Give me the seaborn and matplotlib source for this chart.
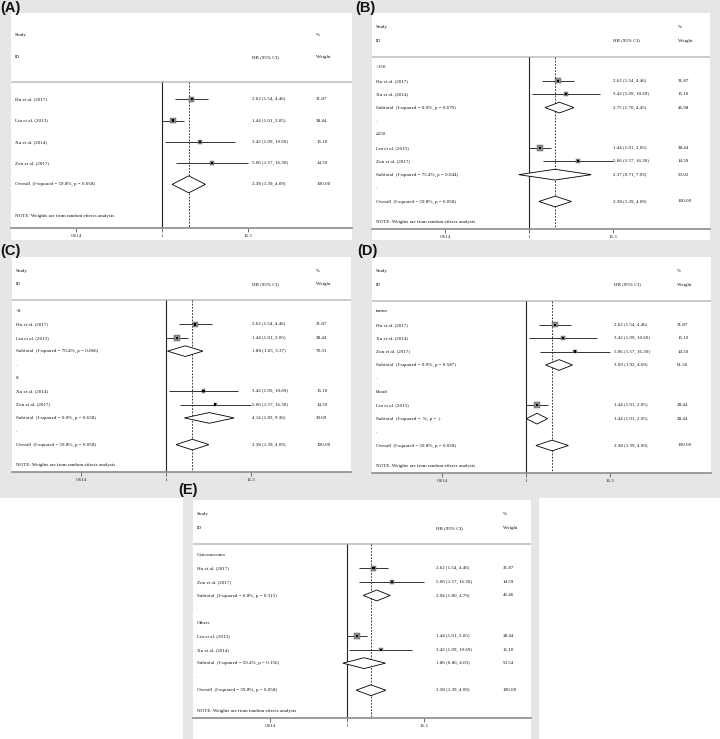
import numpy as np
import pandas as pd
import matplotlib
matplotlib.use("Agg")
import matplotlib.pyplot as plt
import matplotlib.transforms as mtransforms
from matplotlib.patches import Rectangle, Polygon
import seaborn as sns

# ---------------- data ----------------
study_names = ["Hu et al. (2017)", "Lin et al. (2013)", "Xu et al. (2014)", "Zou et al. (2017)"]
study_hr = [2.62, 1.44, 3.42, 5.06]
study_low = [1.54, 1.01, 1.09, 1.57]
study_high = [4.46, 2.05, 10.69, 16.30]
study_weight = [31.87, 38.44, 15.10, 14.59]

overall_est = [2.38, 1.39, 4.09]
overall_i2 = "59.8%"
overall_p = "0.058"

# panel B: sample size
b_groups = ["<150", "\u2265150"]
b_members = [[0, 2], [1, 3]]
b_sub_est = [[2.75, 1.70, 4.45], [2.37, 0.71, 7.93]]
b_sub_i2 = ["0.0%", "75.4%"]
b_sub_p = ["0.679", "0.044"]
b_sub_w = [46.98, 53.02]

# panel C: cut-off
c_groups = ["<8", "8"]
c_members = [[0, 1], [2, 3]]
c_sub_est = [[1.88, 1.05, 3.37], [4.14, 1.83, 9.36]]
c_sub_i2 = ["70.4%", "0.0%"]
c_sub_p = ["0.066", "0.638"]
c_sub_w = [70.31, 29.69]

# panel D: sample source
d_groups = ["tumor", "blood"]
d_members = [[0, 2, 3], [1]]
d_sub_est = [[3.00, 1.92, 4.69], [1.44, 1.01, 2.05]]
d_sub_i2 = ["0.0%", "."]
d_sub_p = ["0.587", "."]
d_sub_w = [61.56, 38.44]

# panel E: tumour type
e_groups = ["Osteosarcoma", "Others"]
e_members = [[0, 3], [1, 2]]
e_sub_est = [[2.94, 1.80, 4.79], [1.86, 0.86, 4.03]]
e_sub_i2 = ["0.8%", "50.4%"]
e_sub_p = ["0.315", "0.156"]
e_sub_w = [46.46, 53.54]

tick_values = [0.0614, 1, 16.3]
tick_labels = [".0614", "1", "16.3"]

# ---------------- style ----------------
sns.set_style("white")
plt.rcParams['font.family'] = ['Liberation Serif', 'DejaVu Serif']

W, H = 720, 739
BG = "#e6e6e6"
FS = 3.6

fig = plt.figure(figsize=(W / 100, H / 100), dpi=100)
fig.patch.set_facecolor(BG)


def px_rect(x0, y0, x1, y1, color):
    fig.patches.append(Rectangle((x0 / W, 1 - y1 / H), (x1 - x0) / W, (y1 - y0) / H,
                                 transform=fig.transFigure, facecolor=color,
                                 edgecolor="none", zorder=-5))


# background blocks
px_rect(0, 498, W, H, "white")
px_rect(183, 498, 539, H, BG)
px_rect(193, 500, 531, H, "white")
px_rect(11, 13, 352, 240, "white")
px_rect(372, 13, 710, 240, "white")


def fmt_ci(e):
    return "%.2f (%.2f, %.2f)" % (e[0], e[1], e[2])


def build_rows(groups=None, members=None, sub_est=None, sub_i2=None, sub_p=None, sub_w=None):
    rows = []
    if groups is None:
        for i in range(len(study_names)):
            rows.append(("study", i))
    else:
        for g in range(len(groups)):
            rows.append(("group", groups[g]))
            for i in members[g]:
                rows.append(("study", i))
            rows.append(("subtotal", (sub_est[g], sub_i2[g], sub_p[g], sub_w[g])))
            rows.append(("dot", "."))
    rows.append(("overall", None))
    return rows


def draw_panel(box, geo, rows, label, label_xy, hr_col, w_col):
    left, top, right, bottom = box
    null_px, p16_px = geo
    ax = fig.add_axes([left / W, 1 - bottom / H, (right - left) / W, (bottom - top) / H])
    ax.set_zorder(2)
    ax.set_facecolor("white")
    scale = (p16_px - null_px) / np.log(16.3)
    ax.set_xscale("log")
    ax.set_xlim(np.exp(-(null_px - left) / scale), np.exp((right - null_px) / scale))
    n = len(rows)
    last = n - 1
    ybot = last + 2.05
    ax.set_ylim(ybot, -4.05)
    trans = mtransforms.blended_transform_factory(ax.transAxes, ax.transData)

    def txt(x, y, s):
        ax.text(x, y, s, transform=trans, fontsize=FS, ha="left", va="center", color="#111")

    # header
    txt(0.012, -3, "Study")
    txt(0.012, -2, "ID")
    txt(hr_col, -2, "HR (95% CI)")
    txt(w_col, -3, "%")
    txt(w_col, -2, "Weight")
    ax.axhline(-0.8, color="#bcbcbc", lw=1.1, zorder=1)

    # reference lines
    ax.vlines(1, -0.8, ybot, color="#222", lw=0.8, zorder=2)
    ax.vlines(overall_est[0], -0.8, ybot, color="#222", lw=0.6,
              linestyles=(0, (2.2, 1.6)), zorder=2)

    sx, sy, sw = [], [], []
    for r, (kind, val) in enumerate(rows):
        if kind == "group":
            txt(0.012, r, val)
        elif kind == "dot":
            txt(0.012, r, ".")
        elif kind == "study":
            i = val
            txt(0.012, r, study_names[i])
            txt(hr_col, r, fmt_ci([study_hr[i], study_low[i], study_high[i]]))
            txt(w_col, r, "%.2f" % study_weight[i])
            ax.hlines(r, study_low[i], study_high[i], color="#333", lw=0.7, zorder=3)
            sx.append(study_hr[i]); sy.append(r); sw.append(study_weight[i])
        elif kind in ("subtotal", "overall"):
            if kind == "subtotal":
                est, i2, p, w = val
                name = "Subtotal  (I-squared = %s, p = %s)" % (i2 if i2 != "." else ".%", p)
            else:
                est, w = overall_est, 100.0
                name = "Overall  (I-squared = %s, p = %s)" % (overall_i2, overall_p)
            txt(0.012, r, name)
            txt(hr_col, r, fmt_ci(est))
            txt(w_col, r, "%.2f" % w)
            ax.add_patch(Polygon([[est[1], r], [est[0], r - 0.4], [est[2], r], [est[0], r + 0.4]],
                                 closed=True, facecolor="white", edgecolor="black",
                                 lw=0.6, zorder=4))
    df = pd.DataFrame({"hr": sx, "row": sy, "weight": sw})
    sns.scatterplot(data=df, x="hr", y="row", size="weight", sizes=(0, 45), size_norm=(0, 100),
                    marker="s", color="#8a8a8a", edgecolor="#555", linewidth=0.3,
                    legend=False, ax=ax, zorder=5)
    sns.scatterplot(data=df, x="hr", y="row", s=2.5, marker="s", color="black",
                    edgecolor="none", legend=False, ax=ax, zorder=6)

    txt(0.012, last + 1.5, "NOTE: Weights are from random effects analysis")

    for s in ["top", "left", "right"]:
        ax.spines[s].set_visible(False)
    ax.spines["bottom"].set_color("#8c8c8c")
    ax.spines["bottom"].set_linewidth(1.2)
    ax.set_xticks(tick_values)
    ax.set_xticklabels(tick_labels)
    ax.minorticks_off()
    ax.tick_params(axis="x", length=3, width=0.6, color="#555", pad=1.5,
                   labelsize=FS, labelcolor="#222", direction="out", bottom=True)
    ax.set_yticks([])
    ax.set_xlabel("")
    ax.set_ylabel("")
    ax.set_ylim(ybot, -4.05)

    fig.text(label_xy[0] / W, 1 - label_xy[1] / H, label, fontsize=10.5, fontweight="bold",
             family="Liberation Sans", ha="left", va="top", color="#111")


draw_panel((11, 13, 352, 228), (162, 248), build_rows(), "(A)", (0, 1), 0.707, 0.895)
draw_panel((372, 13, 710, 229), (529, 613),
           build_rows(b_groups, b_members, b_sub_est, b_sub_i2, b_sub_p, b_sub_w),
           "(B)", (355, 1), 0.713, 0.905)
draw_panel((12, 257, 351, 472), (166, 251),
           build_rows(c_groups, c_members, c_sub_est, c_sub_i2, c_sub_p, c_sub_w),
           "(C)", (0, 244), 0.708, 0.897)
draw_panel((372, 257, 711, 473), (526, 610),
           build_rows(d_groups, d_members, d_sub_est, d_sub_i2, d_sub_p, d_sub_w),
           "(D)", (357, 244), 0.713, 0.9)
draw_panel((193, 500, 531, 718), (347, 424),
           build_rows(e_groups, e_members, e_sub_est, e_sub_i2, e_sub_p, e_sub_w),
           "(E)", (178, 483), 0.719, 0.917)

fig.savefig("out.png", dpi=100, facecolor=fig.get_facecolor())
